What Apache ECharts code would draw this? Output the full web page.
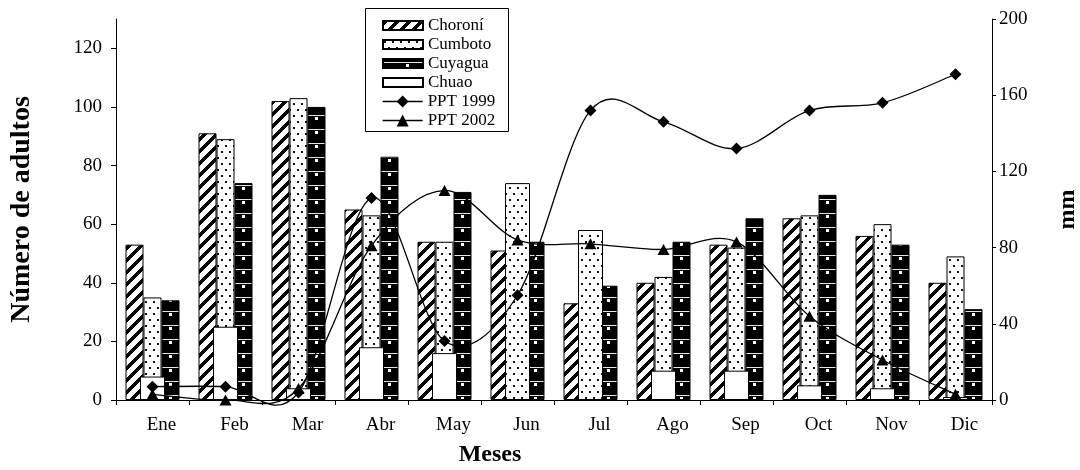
<!DOCTYPE html>
<html>
<head>
<meta charset="utf-8">
<script src="https://cdn.jsdelivr.net/npm/echarts@6/dist/echarts.min.js"></script>
<style>
  html, body { margin: 0; padding: 0; background: #fff; }
  #chart { width: 1080px; height: 470px; }
</style>
</head>
<body>
<div id="chart"></div>
<script>
// Monthly adult counts per locality and monthly rainfall (mm)
const months = ['Ene', 'Feb', 'Mar', 'Abr', 'May', 'Jun', 'Jul', 'Ago', 'Sep', 'Oct', 'Nov', 'Dic'];
const choroni = [53, 91, 102, 65, 54, 51, 33, 40, 53, 62, 56, 40];
const cumboto = [35, 89, 103, 63, 54, 74, 58, 42, 52, 63, 60, 49];
const cuyagua = [34, 74, 100, 83, 71, 54, 39, 54, 62, 70, 53, 31];
const chuao = [8, 25, 4, 18, 16, 0, 0, 10, 10, 5, 4, 1];
const ppt1999 = [7, 7, 4, 106, 31, 55, 152, 146, 132, 152, 156, 171];
const ppt2002 = [3, 0, 6, 81, 110, 84, 82, 79, 83, 44, 21, 3];
const leftTicks = [0, 20, 40, 60, 80, 100, 120];
// months where the Cumboto column is drawn at the wide front width
const wideCumbotoMonths = ['Jun', 'Jul'];

const FONT = '"Liberation Serif", "Times New Roman", serif';

function tile(w, h, draw) {
  const c = document.createElement('canvas');
  c.width = w; c.height = h;
  const ctx = c.getContext('2d');
  draw(ctx, w, h);
  return { image: c, repeat: 'repeat' };
}

// thick diagonal hatching
const hatchFill = tile(12, 12, (ctx, w, h) => {
  ctx.fillStyle = '#fff'; ctx.fillRect(0, 0, w, h);
  ctx.fillStyle = '#000';
  for (let y = 0; y < h; y++)
    for (let x = 0; x < w; x++)
      if ((x + y) % 12 < 5) ctx.fillRect(x, y, 1, 1);
});

// sparse dots on white
const dotFill = tile(8, 12, (ctx, w, h) => {
  ctx.fillStyle = '#fff'; ctx.fillRect(0, 0, w, h);
  ctx.fillStyle = '#111';
  ctx.fillRect(1, 1, 2, 2);
  ctx.fillRect(5, 7, 2, 2);
});

// black with white rules and small white squares
const brickFill = tile(73, 14, (ctx, w, h) => {
  ctx.fillStyle = '#000'; ctx.fillRect(0, 0, w, h);
  ctx.fillStyle = '#e6e6e6'; ctx.fillRect(0, 3, w, 1);
  ctx.fillStyle = '#fff'; ctx.fillRect(23, 5, 3, 3);
});

const cumbotoWide = cumboto.map((v, i) => wideCumbotoMonths.includes(months[i]) ? v : null);

// Catmull-Rom style smoothed curve through the points, built from axis coordinates
function smoothCurve(values) {
  return function (params, api) {
    if (params.dataIndex !== 0) return null;
    const pts = values.map((v, i) => api.coord([i, v]));
    const children = [];
    const n = pts.length;
    for (let i = 0; i < n - 1; i++) {
      const p0 = pts[Math.max(i - 1, 0)], p1 = pts[i], p2 = pts[i + 1], p3 = pts[Math.min(i + 2, n - 1)];
      children.push({
        type: 'bezierCurve',
        shape: {
          x1: p1[0], y1: p1[1], x2: p2[0], y2: p2[1],
          cpx1: p1[0] + (p2[0] - p0[0]) / 6, cpy1: p1[1] + (p2[1] - p0[1]) / 6,
          cpx2: p2[0] - (p3[0] - p1[0]) / 6, cpy2: p2[1] - (p3[1] - p1[1]) / 6
        },
        style: { stroke: '#000', fill: 'none', lineWidth: 1.3 }
      });
    }
    return { type: 'group', children: children };
  };
}

const chart = echarts.init(document.getElementById('chart'), null, { renderer: 'canvas' });

const barBorder = { borderColor: '#000', borderWidth: 1 };

chart.setOption({
  animation: false,
  backgroundColor: '#fff',
  textStyle: { fontFamily: FONT, color: '#000' },
  grid: { left: 116, right: 88, top: 19, bottom: 70, containLabel: false, outerBoundsMode: 'none' },
  graphic: [{
    type: 'rect', left: 365, top: 8, z: 10,
    shape: { width: 143, height: 123 },
    style: { fill: 'rgba(0,0,0,0)', stroke: '#000', lineWidth: 1 }
  }],
  legend: [{
    orient: 'vertical', left: 377, top: 12,
    itemWidth: 40, itemHeight: 9, itemGap: 2,
    icon: 'rect',
    textStyle: { fontFamily: FONT, fontSize: 17, lineHeight: 17, color: '#000' },
    data: ['Choroní', 'Cumboto', 'Cuyagua', 'Chuao']
  }, {
    orient: 'vertical', left: 377, top: 88,
    itemWidth: 40, itemHeight: 15, itemGap: 2,
    lineStyle: { color: '#000', width: 1.3, opacity: 1 },
    textStyle: { fontFamily: FONT, fontSize: 17, lineHeight: 17, color: '#000' },
    data: ['PPT 1999', 'PPT 2002']
  }],
  xAxis: [{
    type: 'category', data: months,
    axisLine: { lineStyle: { color: '#000', width: 1 } },
    axisTick: { show: true, length: 5, lineStyle: { color: '#000' } },
    axisLabel: { fontFamily: FONT, fontSize: 19, color: '#000', margin: 16, padding: [0, 0, 0, 18] },
    name: 'Meses', nameLocation: 'middle', nameGap: 43,
    nameTextStyle: { fontFamily: FONT, fontSize: 24, fontWeight: 'bold', color: '#000', padding: [0, 128, 0, 0] }
  }, {
    type: 'category', data: months, show: false
  }],
  yAxis: [{
    type: 'value', min: 0, max: 130,
    axisLine: { show: true, lineStyle: { color: '#000', width: 1 } },
    axisTick: { show: true, length: 5, customValues: leftTicks, lineStyle: { color: '#000' } },
    axisLabel: { fontFamily: FONT, fontSize: 19, color: '#000', margin: 14, customValues: leftTicks },
    splitLine: { show: false },
    name: 'Número de adultos', nameLocation: 'middle', nameGap: 80, nameRotate: 90,
    nameTextStyle: { fontFamily: FONT, fontSize: 28, fontWeight: 'bold', color: '#000' }
  }, {
    type: 'value', min: 0, max: 200, interval: 40, position: 'right',
    axisLine: { show: true, lineStyle: { color: '#000', width: 1 } },
    axisTick: { show: true, length: 4, lineStyle: { color: '#000' } },
    axisLabel: { fontFamily: FONT, fontSize: 19, color: '#000', margin: 7 },
    splitLine: { show: false },
    name: 'mm', nameLocation: 'middle', nameGap: 64, nameRotate: 90,
    nameTextStyle: { fontFamily: FONT, fontSize: 24, fontWeight: 'bold', color: '#000' }
  }],
  series: [{
    name: 'Choroní', type: 'bar', xAxisIndex: 0, yAxisIndex: 0,
    barWidth: 18, barGap: '0%',
    itemStyle: Object.assign({ color: hatchFill }, barBorder),
    data: choroni
  }, {
    name: 'Cumboto', type: 'bar', xAxisIndex: 0, yAxisIndex: 0,
    barWidth: 18, barGap: '0%',
    itemStyle: Object.assign({ color: dotFill }, barBorder),
    data: cumboto
  }, {
    name: 'Cuyagua', type: 'bar', xAxisIndex: 0, yAxisIndex: 0,
    barWidth: 18, barGap: '0%',
    itemStyle: Object.assign({ color: brickFill }, barBorder),
    data: cuyagua
  }, {
    name: 'Cumboto', type: 'bar', xAxisIndex: 1, yAxisIndex: 0,
    barWidth: 25, barGap: '-100%', z: 3,
    itemStyle: Object.assign({ color: dotFill }, barBorder),
    data: cumbotoWide
  }, {
    name: 'Chuao', type: 'bar', xAxisIndex: 1, yAxisIndex: 0,
    barWidth: 25, barGap: '-100%', z: 3,
    itemStyle: Object.assign({ color: '#fff' }, barBorder),
    data: chuao
  }, {
    name: 'PPT 1999', type: 'line', xAxisIndex: 0, yAxisIndex: 1,
    symbol: 'diamond', symbolSize: 12, z: 7,
    lineStyle: { color: '#000', width: 1.3, opacity: 0 },
    itemStyle: { color: '#000' },
    data: ppt1999
  }, {
    name: 'PPT 2002', type: 'line', xAxisIndex: 0, yAxisIndex: 1,
    symbol: 'triangle', symbolSize: [12, 11], z: 7,
    lineStyle: { color: '#000', width: 1.3, opacity: 0 },
    itemStyle: { color: '#000' },
    data: ppt2002
  }, {
    name: 'PPT 1999 curva', type: 'custom', coordinateSystem: 'cartesian2d',
    xAxisIndex: 0, yAxisIndex: 1, z: 6, silent: true,
    renderItem: smoothCurve(ppt1999),
    data: ppt1999
  }, {
    name: 'PPT 2002 curva', type: 'custom', coordinateSystem: 'cartesian2d',
    xAxisIndex: 0, yAxisIndex: 1, z: 6, silent: true,
    renderItem: smoothCurve(ppt2002),
    data: ppt2002
  }]
});
</script>
</body>
</html>
